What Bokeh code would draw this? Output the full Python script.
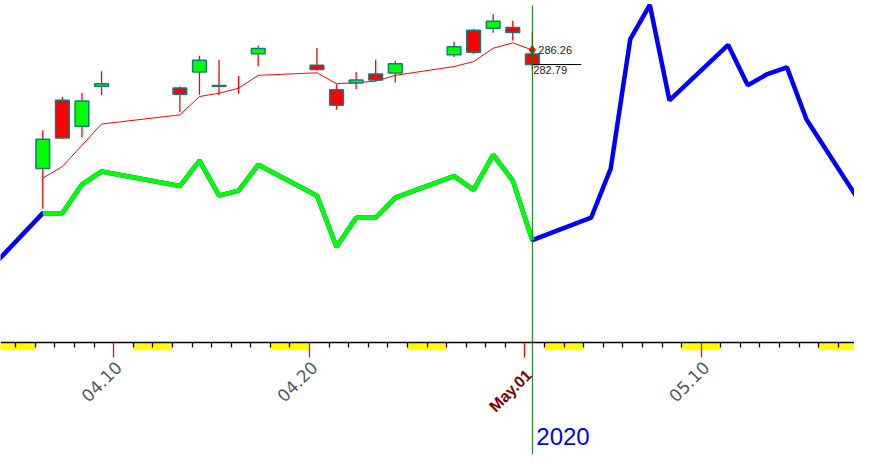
import math
import datetime as dt
from bokeh.plotting import figure
from bokeh.models import (Range1d, LinearAxis, FixedTicker, Label,
                          ColumnDataSource)
from bokeh.core.properties import value
from bokeh.embed import file_html
from bokeh.resources import INLINE

# ---------------- data ----------------
candle_dates = ["2020-04-06", "2020-04-07", "2020-04-08", "2020-04-09",
                "2020-04-13", "2020-04-14", "2020-04-15", "2020-04-16",
                "2020-04-17", "2020-04-20", "2020-04-21", "2020-04-22",
                "2020-04-23", "2020-04-24", "2020-04-27", "2020-04-28",
                "2020-04-29", "2020-04-30", "2020-05-01"]
opens = [257.84, 274.21, 267.96, 277.58, 277.14, 280.98, 277.57, 279.10,
         285.38, 282.61, 276.73, 278.35, 280.49, 280.73, 285.12, 291.02,
         291.53, 291.71, 285.31]
highs = [267.00, 275.03, 276.00, 281.20, 277.51, 284.90, 283.94, 280.03,
         287.30, 286.79, 278.04, 281.00, 283.94, 283.70, 288.27, 291.40,
         294.88, 293.32, 290.66]
lows = [248.17, 264.89, 265.25, 275.47, 271.41, 275.51, 275.46, 275.76,
        282.40, 281.35, 272.02, 276.91, 278.75, 278.50, 284.62, 285.40,
        290.41, 288.59, 281.52]
closes = [264.86, 265.13, 274.03, 278.20, 275.66, 283.79, 277.76, 279.10,
          286.64, 281.59, 273.04, 279.10, 279.08, 282.97, 287.05, 285.73,
          293.21, 290.48, 282.79]
moving_avg = [255.5, 258.3, 263.4, 268.5, 270.7, 275.1, 275.9, 277.1,
              280.2, 280.8, 278.2, 278.4, 278.8, 280.2, 282.3, 283.5,
              286.7, 288.0, 286.26]

pattern_dates = ["2020-04-03", "2020-04-06", "2020-04-07", "2020-04-08",
                 "2020-04-09", "2020-04-13", "2020-04-14", "2020-04-15",
                 "2020-04-16", "2020-04-17", "2020-04-20", "2020-04-21",
                 "2020-04-22", "2020-04-23", "2020-04-24", "2020-04-27",
                 "2020-04-28", "2020-04-29", "2020-04-30", "2020-05-01",
                 "2020-05-04", "2020-05-05", "2020-05-06", "2020-05-07",
                 "2020-05-08", "2020-05-11", "2020-05-12", "2020-05-13",
                 "2020-05-14", "2020-05-15", "2020-05-18"]
pattern_values = [232.2, 247.1, 247.1, 254.0, 257.1, 253.6, 259.7, 251.3,
                  252.5, 258.7, 251.3, 239.0, 246.0, 246.0, 250.8, 256.0,
                  252.7, 261.1, 254.9, 240.6, 246.0, 257.8, 288.9, 297.1,
                  274.2, 287.5, 277.8, 280.5, 282.1, 269.6, 247.8]
match_start, match_end = "2020-04-06", "2020-05-01"

weekend_starts = ["2020-04-04", "2020-04-11", "2020-04-18", "2020-04-25",
                  "2020-05-02", "2020-05-09", "2020-05-16"]
tick_labels = {"2020-04-10": "04.10", "2020-04-20": "04.20",
               "2020-05-10": "05.10"}
highlight_label = {"2020-05-01": "May.01"}
year_label = "2020"
last_ma_text = "286.26"
last_close_text = "282.79"

# ---------------- helpers / layout ----------------
BASE = dt.date(2020, 4, 1)


def dnum(s):
    return (dt.date.fromisoformat(s) - BASE).days


W, H = 854, 454
CENTER = 0.38      # candle centre inside a day slot
X0, X1 = 3.22, 46.83
Y0, Y1 = 189.13, 298.17
AXIS_Y = 216.1     # price level where the date axis sits
PPX = (Y1 - Y0) / H  # price units per screen pixel

cx = [dnum(d) + CENTER for d in candle_dates]
body = ColumnDataSource(dict(
    x=[x for x, o, c in zip(cx, opens, closes) if o != c],
    top=[max(o, c) for o, c in zip(opens, closes) if o != c],
    bottom=[min(o, c) for o, c in zip(opens, closes) if o != c],
    color=["#00ff00" if c > o else "#ff0000"
           for o, c in zip(opens, closes) if o != c],
))

p = figure(width=W, height=H, x_range=Range1d(X0, X1),
           y_range=Range1d(Y0, Y1), output_backend="svg",
           toolbar_location=None, min_border=0,
           x_axis_location=None, y_axis_location=None)
p.xgrid.visible = False
p.ygrid.visible = False
p.outline_line_color = None
p.background_fill_color = "white"
p.border_fill_color = "white"

# weekend strips under the date axis
ws = [dnum(d) for d in weekend_starts]
p.quad(left=ws, right=[w + 2 for w in ws],
       top=[AXIS_Y - 1.0 * PPX] * len(ws),
       bottom=[AXIS_Y - 8.0 * PPX] * len(ws),
       fill_color="#ffff00", line_color=None)

# pattern line (blue) and matched part (green)
px_ = [dnum(d) + CENTER for d in pattern_dates]
p.line(px_, pattern_values, line_color="#0000ff", line_width=4.5)
i0, i1 = pattern_dates.index(match_start), pattern_dates.index(match_end)
p.line(px_[i0:i1 + 1], pattern_values[i0:i1 + 1], line_color="#00ff00",
       line_width=4.5)

# moving average
p.line(cx, moving_avg, line_color="#ff0000", line_width=1)

# candles
p.segment(x0=cx, y0=lows, x1=cx, y1=highs, line_color="#ff0000",
          line_width=1.3)
p.vbar(x="x", width=0.7, top="top", bottom="bottom", fill_color="color",
       line_color="#0a7f80", line_width=1.5, source=body)

# last values
p.scatter([cx[-1]], [moving_avg[-1]], marker="diamond", size=9,
          color="#ff0000")
p.segment(x0=[cx[-1]], y0=[closes[-1]], x1=[cx[-1] + 2.5], y1=[closes[-1]],
          line_color="black", line_width=1)
p.text(x=[cx[-1]], y=[moving_avg[-1]], text=[last_ma_text],
       x_offset=6, text_baseline="middle", text_align="left",
       text_font=value("Liberation Sans"), text_font_size="11px",
       text_color="#222222")
p.text(x=[cx[-1]], y=[closes[-1]], text=[last_close_text],
       x_offset=1, y_offset=1, text_baseline="top", text_align="left",
       text_font=value("Liberation Sans"), text_font_size="11px",
       text_color="#222222")

# current-day vertical line
p.segment(x0=[cx[-1]], y0=[Y0], x1=[cx[-1]], y1=[Y1 - 5 * PPX],
          line_color="#008000", line_width=1)

# ---------------- date axis ----------------
major = [dnum(d) for d in list(tick_labels) + list(highlight_label)]
minor = [d for d in range(3, 48) if d not in major]
ax = LinearAxis(fixed_location=AXIS_Y,
                ticker=FixedTicker(ticks=sorted(major), minor_ticks=minor),
                major_label_overrides={m: "" for m in major},
                axis_line_color="black", axis_line_width=1.5,
                major_tick_line_color="#ff0000", major_tick_in=0,
                major_tick_out=15, major_tick_line_width=1.3,
                minor_tick_line_color="black", minor_tick_in=0,
                minor_tick_out=5, minor_tick_line_width=1.3)
p.add_layout(ax, "below")

LAB_OFF = 0.25
lab_ticks = [dnum(d) + LAB_OFF for d in tick_labels]
ax2 = LinearAxis(fixed_location=AXIS_Y,
                 ticker=FixedTicker(ticks=lab_ticks, minor_ticks=[]),
                 major_label_overrides={t: s for t, s in
                                        zip(lab_ticks, tick_labels.values())},
                 axis_line_color=None, major_tick_line_color=None,
                 minor_tick_line_color=None, major_tick_out=0,
                 major_tick_in=0, major_label_standoff=22,
                 major_label_orientation=math.pi / 4,
                 major_label_text_font="DejaVu Sans",
                 major_label_text_font_size="17px",
                 major_label_text_color="#4f5963")
p.add_layout(ax2, "below")

hl_ticks = [dnum(d) + 0.2 for d in highlight_label]
ax3 = LinearAxis(fixed_location=AXIS_Y,
                 ticker=FixedTicker(ticks=hl_ticks, minor_ticks=[]),
                 major_label_overrides={t: s for t, s in
                                        zip(hl_ticks, highlight_label.values())},
                 axis_line_color=None, major_tick_line_color=None,
                 minor_tick_line_color=None, major_tick_out=0,
                 major_tick_in=0, major_label_standoff=30,
                 major_label_orientation=math.pi / 4,
                 major_label_text_font="Liberation Sans",
                 major_label_text_font_size="16px",
                 major_label_text_font_style="bold",
                 major_label_text_color="#800000")
p.add_layout(ax3, "below")

p.add_layout(Label(x=dnum("2020-05-01") + 0.58, y=Y0 + 10 * PPX,
                   text=year_label, text_color="#0000ff",
                   text_font="Liberation Sans", text_font_size="24px",
                   text_baseline="bottom"))

open("out.html", "w").write(file_html(p, INLINE))
